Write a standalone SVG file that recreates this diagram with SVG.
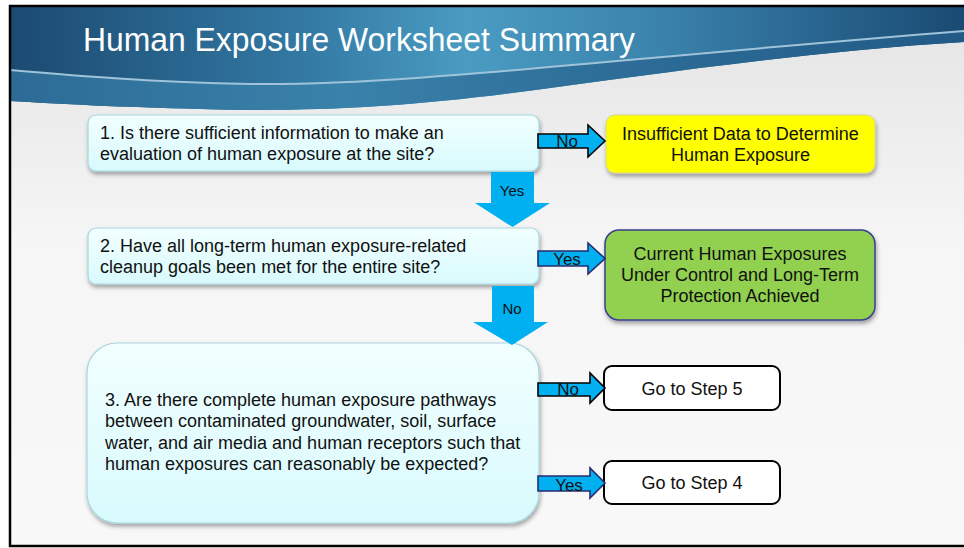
<svg xmlns="http://www.w3.org/2000/svg" width="964" height="548" viewBox="0 0 964 548">
<style>
text{font-family:"Liberation Sans",Arial,sans-serif;fill:#111}
.q{font-size:18px}
.c{font-size:18px;text-anchor:middle}
.lbl{font-size:17px;text-anchor:middle}
.dl{font-size:15px;text-anchor:middle}
.qbox{fill:url(#qfill);stroke:#a9d6de;stroke-width:1.2}
.down{fill:#00b0f0}
.rarr{fill:#00b0f0;stroke-width:1.6;stroke-linejoin:miter}
</style>
<defs>
<linearGradient id="bg" x1="0" y1="0" x2="0" y2="1">
<stop offset="0" stop-color="#e4e4e4"/>
<stop offset="0.45" stop-color="#f6f6f6"/>
<stop offset="1" stop-color="#f8f8f8"/>
</linearGradient>
<linearGradient id="hdr" x1="0" y1="0" x2="1" y2="0">
<stop offset="0" stop-color="#1b4a71"/>
<stop offset="0.3" stop-color="#3278a2"/>
<stop offset="0.48" stop-color="#4a9bc2"/>
<stop offset="0.68" stop-color="#3a83ad"/>
<stop offset="1" stop-color="#194a73"/>
</linearGradient>
<linearGradient id="band" x1="0" y1="0" x2="1" y2="0">
<stop offset="0" stop-color="#2c6b95"/>
<stop offset="0.35" stop-color="#3a82ab"/>
<stop offset="0.6" stop-color="#2e6f99"/>
<stop offset="1" stop-color="#225a86"/>
</linearGradient>
<linearGradient id="qfill" x1="0" y1="0" x2="0" y2="1">
<stop offset="0" stop-color="#f2ffff"/>
<stop offset="1" stop-color="#d8fafd"/>
</linearGradient>
<filter id="sh" x="-10%" y="-10%" width="120%" height="130%">
<feDropShadow dx="1" dy="3" stdDeviation="2" flood-color="#000" flood-opacity="0.35"/>
</filter>
</defs>

<rect x="0" y="0" width="964" height="548" fill="#ffffff"/>
<rect x="10" y="6" width="960" height="540" fill="url(#bg)"/>

<g id="header">
<path d="M10,7 H964 V42 C800,52 650,75 520,92 C400,108 300,112 200,109 C120,107 60,104 10,101 Z" fill="url(#hdr)"/>
<path d="M10,70 C80,76 150,82 250,84 C400,86 600,60 964,31 V42 C800,52 650,75 520,92 C400,108 300,112 200,109 C120,107 60,104 10,101 Z" fill="url(#band)"/>
<path d="M10,70 C80,76 150,82 250,84 C400,86 600,60 964,31" fill="none" stroke="#9fc3d8" stroke-width="2"/>
<text x="83" y="51" font-size="33" textLength="552" lengthAdjust="spacingAndGlyphs" style="fill:#ffffff">Human Exposure Worksheet Summary</text>
</g>

<g id="q1">
<rect class="qbox" x="88" y="115" width="451" height="56" rx="8" filter="url(#sh)"/>
<text class="q" x="100" y="139">1. Is there sufficient information to make an</text>
<text class="q" x="100" y="160">evaluation of human exposure at the site?</text>
</g>

<g id="q2">
<rect class="qbox" x="88" y="228" width="451" height="56" rx="8" filter="url(#sh)"/>
<text class="q" x="100" y="252">2. Have all long-term human exposure-related</text>
<text class="q" x="100" y="273">cleanup goals been met for the entire site?</text>
</g>

<g id="q3">
<rect class="qbox" x="87" y="343" width="452" height="180" rx="30" filter="url(#sh)"/>
<text class="q" x="105" y="406">3. Are there complete human exposure pathways</text>
<text class="q" x="105" y="427">between contaminated groundwater, soil, surface</text>
<text class="q" x="105" y="449">water, and air media and human receptors such that</text>
<text class="q" x="105" y="470">human exposures can reasonably be expected?</text>
</g>

<g id="insufficient">
<rect x="606" y="115" width="269" height="58" rx="9" fill="#ffff00" stroke="#d6d68a" stroke-width="1" filter="url(#sh)"/>
<text class="c" x="740.5" y="140">Insufficient Data to Determine</text>
<text class="c" x="740.5" y="161">Human Exposure</text>
</g>

<g id="controlled">
<rect x="605" y="230" width="270" height="90" rx="14" fill="#92d050" stroke="#3a3f8f" stroke-width="1.5" filter="url(#sh)"/>
<text class="c" x="740" y="260">Current Human Exposures</text>
<text class="c" x="740" y="281">Under Control and Long-Term</text>
<text class="c" x="740" y="302">Protection Achieved</text>
</g>

<g id="step5">
<rect x="604" y="366" width="176" height="44" rx="8" fill="#ffffff" stroke="#000" stroke-width="2"/>
<text class="c" x="692" y="395">Go to Step 5</text>
</g>

<g id="step4">
<rect x="604" y="461" width="176" height="43" rx="8" fill="#ffffff" stroke="#000" stroke-width="2"/>
<text class="c" x="692" y="489">Go to Step 4</text>
</g>

<g id="connectors">
<polygon class="down" points="491,172 534,172 534,203 550,203 512.5,227 475,203 491,203"/>
<text class="dl" x="512" y="196">Yes</text>
<polygon class="down" points="492,286 534,286 534,322 548,322 512,345 473,322 492,322"/>
<text class="dl" x="512" y="314">No</text>

<polygon class="rarr" stroke="#000" points="538,134 588,134 588,125 605,141 588,157 588,148 538,148"/>
<text class="lbl" x="567" y="147">No</text>
<polygon class="rarr" stroke="#262c6e" points="538,251 588,251 588,243 605,258.5 588,274 588,266 538,266"/>
<text class="lbl" x="567" y="265">Yes</text>
<polygon class="rarr" stroke="#000" points="538,383 590,383 590,373 605,388 590,403 590,396 538,396"/>
<text class="lbl" x="568" y="395">No</text>
<polygon class="rarr" stroke="#262c6e" points="538,476 590,476 590,468 605,483 590,498 590,491 538,491"/>
<text class="lbl" x="569" y="491">Yes</text>
</g>

<rect x="10" y="6" width="960" height="540" fill="none" stroke="#000" stroke-width="2.5"/>
</svg>
